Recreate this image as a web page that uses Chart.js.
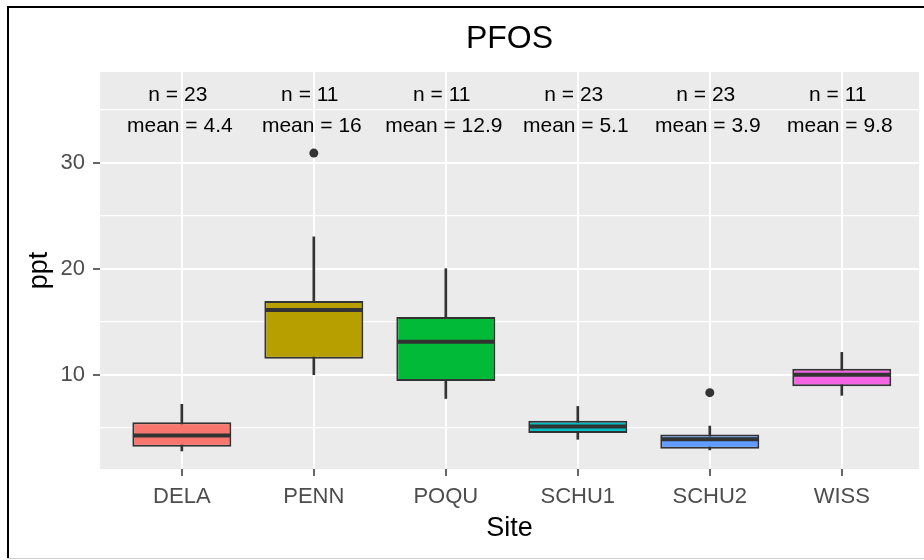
<!DOCTYPE html>
<html>
<head>
<meta charset="utf-8">
<script src="https://cdn.jsdelivr.net/npm/chart.js@4.4.1/dist/chart.umd.min.js"></script>
<style>
  html, body { margin: 0; padding: 0; background: #fff; }
  #wrap { width: 924px; height: 560px; }
</style>
</head>
<body>
<div id="wrap"><canvas id="pfos" width="924" height="560"></canvas></div>
<script>
// data
var sites = ['DELA', 'PENN', 'POQU', 'SCHU1', 'SCHU2', 'WISS'];
var whiskerLow  = [2.8, 10.0, 7.75, 3.9, 2.9, 8.05];
var q1          = [3.2, 11.5, 9.4, 4.5, 3.0, 8.9];
var medians     = [4.25, 16.1, 13.1, 5.1, 3.9, 10.0];
var q3          = [5.5, 16.95, 15.45, 5.65, 4.35, 10.55];
var whiskerHigh = [7.2, 23.0, 20.0, 7.0, 5.15, 12.1];
var outlierSite  = ['PENN', 'SCHU2'];
var outlierValue = [30.9, 8.3];
var nCounts = [23, 11, 11, 23, 23, 11];
var means   = [4.4, 16, 12.9, 5.1, 3.9, 9.8];
var yMajor = [10, 20, 30];
var yMinor = [5, 15, 25, 35];

var fills = ['#F8766D', '#B79F00', '#00BA38', '#00BFC4', '#619CFF', '#F564E3'];
var FONT = "'Liberation Sans', Arial, sans-serif";

// where the n / mean text rows sit (data units)
var nRowY = 36.4;
var meanRowY = 33.4;

var boxData = sites.map(function(s, i){ return {x: i + 1, y: [q1[i], q3[i]]}; });
var whiskerData = sites.map(function(s, i){ return {x: i + 1, y: [whiskerLow[i], whiskerHigh[i]]}; });
var outlierData = outlierSite.map(function(s, i){ return {x: sites.indexOf(s) + 1, y: outlierValue[i]}; });

//panel background + frame
var backgroundPlugin = {
    id: 'panelBg',
    beforeDraw: function(chart){
        var ctx = chart.ctx, a = chart.chartArea;
        ctx.save();
        ctx.fillStyle = '#fff';
        ctx.fillRect(0, 0, chart.width, chart.height);
        ctx.fillStyle = '#EBEBEB';
        ctx.fillRect(a.left, a.top, a.right - a.left, a.bottom - a.top);
        ctx.fillStyle = '#000';
        ctx.fillRect(7, 6, chart.width - 7, 2);
        ctx.fillRect(7, 6, 2, 553);
        ctx.fillStyle = '#cfcfcf';
        ctx.fillRect(7, 558, chart.width - 7, 1);
        ctx.restore();
    }
};

//medians + n/mean text
var boxExtras = {
    id: 'boxExtras',
    afterDatasetsDraw: function(chart){
        var ctx = chart.ctx;
        var xs = chart.scales.x, ys = chart.scales.y;
        var meta = chart.getDatasetMeta(1);
        ctx.save();
        ctx.strokeStyle = '#333333';
        ctx.lineWidth = 4;
        meta.data.forEach(function(bar, i){
            var half = bar.width / 2 - 1;
            var y = ys.getPixelForValue(medians[i]);
            ctx.beginPath();
            ctx.moveTo(bar.x - half, y);
            ctx.lineTo(bar.x + half, y);
            ctx.stroke();
        });
        ctx.fillStyle = '#000';
        ctx.font = '21px ' + FONT;
        ctx.textAlign = 'center';
        ctx.textBaseline = 'middle';
        sites.forEach(function(s, i){
            var x = xs.getPixelForValue(i + 1);
            ctx.fillText('n = ' + nCounts[i], x - 4, ys.getPixelForValue(nRowY));
            ctx.fillText('mean = ' + means[i], x - 2, ys.getPixelForValue(meanRowY));
        });
        ctx.restore();
    }
};

var ctx = document.getElementById('pfos').getContext('2d');
var myChart = new Chart(ctx, {
    type: 'bar',
    data: {
        datasets: [{
            label: 'whiskers',
            data: whiskerData,
            backgroundColor: '#333333',
            barThickness: 2,
            grouped: false,
            order: 3
        }, {
            label: 'boxes',
            data: boxData,
            backgroundColor: fills,
            borderColor: '#333333',
            borderWidth: 2,
            borderSkipped: false,
            barPercentage: 0.75,
            categoryPercentage: 1,
            grouped: false,
            order: 2
        }, {
            type: 'line',
            label: 'outliers',
            data: outlierData,
            showLine: false,
            pointRadius: 4.5,
            pointBackgroundColor: '#333333',
            pointBorderWidth: 0,
            order: 1
        }]
    },
    options: {
        responsive: false,
        animation: false,
        layout: { padding: { left: 8, right: 5, top: 0, bottom: 0 } },
        plugins: {
            legend: { display: false },
            tooltip: { enabled: false },
            title: {
                display: true,
                text: 'PFOS',
                color: '#000',
                fullSize: false,
                font: { family: FONT, size: 32, weight: 'normal' },
                padding: { top: 20, bottom: 13.6 }
            }
        },
        scales: {
            x: {
                type: 'linear',
                min: 0.38,
                max: 6.585,
                offset: false,
                afterBuildTicks: function(scale){
                    scale.ticks = sites.map(function(s, i){ return {value: i + 1}; });
                },
                afterFit: function(scale){ scale.height = 91; },
                ticks: {
                    autoSkip: false,
                    maxRotation: 0,
                    padding: 8,
                    color: '#4D4D4D',
                    font: { family: FONT, size: 22 },
                    callback: function(v){ return sites[v - 1]; }
                },
                grid: {
                    offset: false,
                    color: '#fff',
                    lineWidth: 2,
                    tickColor: '#333333',
                    tickLength: 7,
                    tickWidth: 1.5
                },
                border: { display: false },
                title: {
                    display: true,
                    text: 'Site',
                    color: '#000',
                    font: { family: FONT, size: 27 },
                    padding: { top: 0, bottom: 15 }
                }
            },
            y: {
                min: 1.1,
                max: 38.55,
                afterBuildTicks: function(scale){
                    scale.ticks = yMinor.concat(yMajor).sort(function(a, b){ return a - b; })
                        .map(function(v){ return {value: v}; });
                },
                afterFit: function(scale){ scale.width = 92; },
                ticks: {
                    autoSkip: false,
                    padding: 8,
                    color: '#4D4D4D',
                    font: { family: FONT, size: 22 },
                    callback: function(v){ return yMajor.indexOf(v) >= 0 ? String(v) : ''; }
                },
                grid: {
                    color: '#fff',
                    lineWidth: function(c){ return yMajor.indexOf(c.tick.value) >= 0 ? 2 : 1.2; },
                    tickColor: function(c){ return yMajor.indexOf(c.tick.value) >= 0 ? '#333333' : 'rgba(0,0,0,0)'; },
                    tickLength: 7,
                    tickWidth: 1.5
                },
                border: { display: false },
                title: {
                    display: true,
                    text: 'ppt',
                    color: '#000',
                    font: { family: FONT, size: 27 },
                    padding: { top: 15, bottom: 0 }
                }
            }
        }
    },
    plugins: [backgroundPlugin, boxExtras]
});
</script>
</body>
</html>
